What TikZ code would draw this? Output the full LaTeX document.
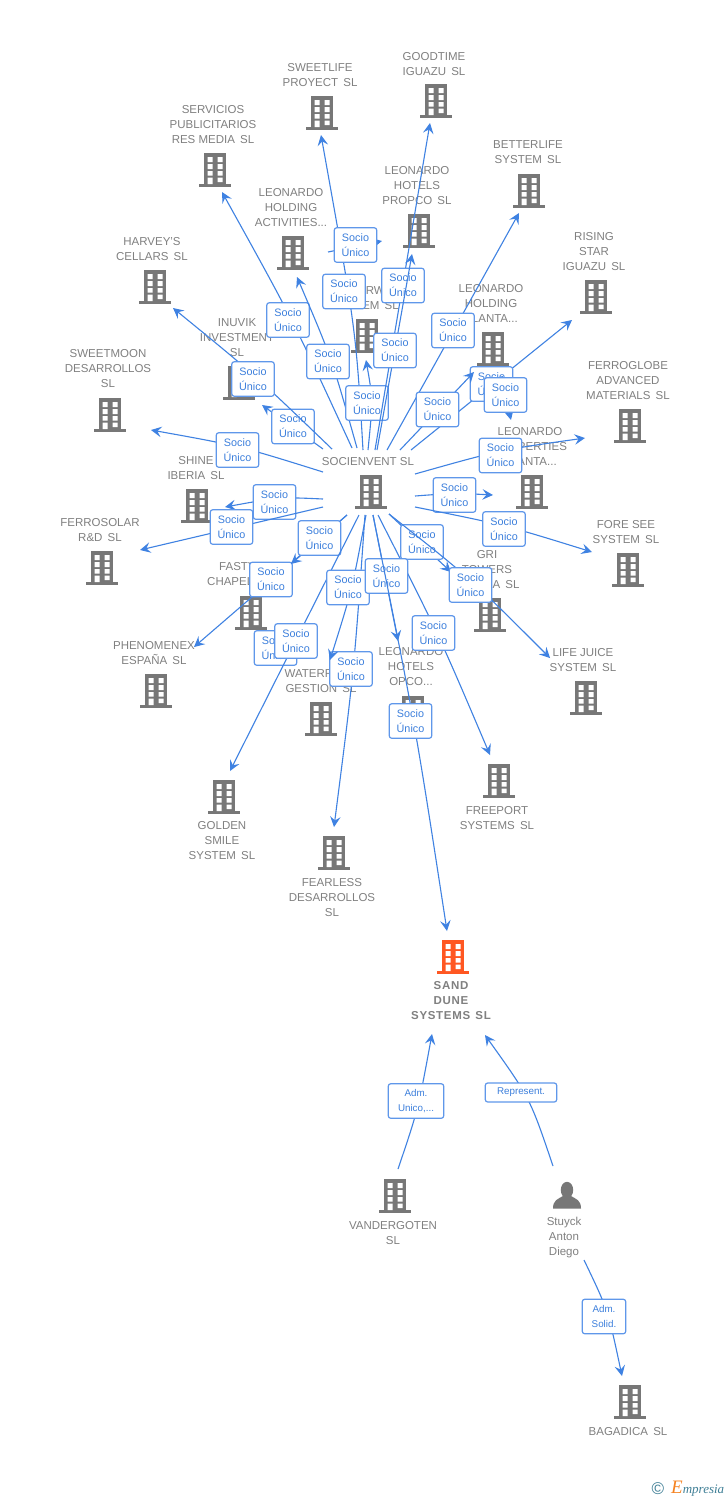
\documentclass[tikz,border=0pt]{standalone}
\usepackage{fontspec}
\setmainfont{Liberation Sans}
\newfontfamily\logofont{Liberation Serif}
\usetikzlibrary{arrows.meta}
\definecolor{ico}{HTML}{777777}
\definecolor{txt}{HTML}{808080}
\definecolor{lnc}{HTML}{3F82E2}
\definecolor{lbd}{HTML}{5F97EA}
\definecolor{ltx}{HTML}{3C7FDC}
\definecolor{org}{HTML}{FF5722}
\definecolor{teal2}{HTML}{3F7F96}
\definecolor{org2}{HTML}{F58220}
\tikzset{
  conn/.style={draw=lnc,line width=1.1pt,-{Stealth[length=10.5pt,width=10.5pt,inset=4pt]}},
  lbl/.style={draw=lbd,line width=1.2pt,fill=white,rounded corners=2.5pt,minimum width=42.5pt,minimum height=34.5pt,inner sep=0pt,align=center,text=ltx,font=\fontsize{10.8}{15}\selectfont},
  tag/.style={inner sep=0pt,align=center,text=txt,yshift=-0.8pt,font=\fontsize{11.5}{15}\selectfont},
  bnode/.style={inner sep=0pt,minimum width=32pt,minimum height=34pt,anchor=north},
}
\newcommand{\sg}{\hspace{.45em}}
\newcommand{\bld}[4][ico]{%
  \node[bnode] (#2) at (#3,#4) {};
  \begin{scope}[shift={(#3,#4)}]
    \fill[#1] (-11.2,0) rectangle (11.2,31);
    \fill[#1] (-16,31) rectangle (16,33.5);
    \fill[white] (-7.5,4) rectangle (-2.5,9) (2.5,4) rectangle (7.5,9)
      (-7.5,11.2) rectangle (-2.5,16) (2.5,11.2) rectangle (7.5,16)
      (-7.5,18) rectangle (-2.5,22.5) (2.5,18) rectangle (7.5,22.5)
      (-7.5,24.5) rectangle (-2.5,31) (2.5,24.5) rectangle (7.5,29);
  \end{scope}}
\newcommand{\tg}[4]{\node[tag] (#1) at (#2,#3) {#4};}
% name, start, end, label centre, label text
\newcommand{\lnk}[5]{%
  \coordinate (#1s) at (#2); \coordinate (#1e) at (#3);
  \draw[conn] (#1s) -- (#1e);
  \node[lbl] (#1l) at (#4) {#5};}
% name, start, control, end, label centre, label text
\newcommand{\lnc}[6]{%
  \coordinate (#1s) at (#2); \coordinate (#1c) at (#3); \coordinate (#1e) at (#4);
  \draw[conn] (#1s) .. controls (#1c) .. (#1e);
  \node[lbl] (#1l) at (#5) {#6};}
\newcommand{\su}{Socio\\Único}
\begin{document}
\begin{tikzpicture}[x=1pt,y=-1pt]
\useasboundingbox (0,0) rectangle (728,1500);
\fill[white] (0,0) rectangle (728,1500);
% buildings
\bld{soc}{371}{475}
\bld{sweetlife}{322}{96}
\bld{goodtime}{436}{84}
\bld{servicios}{215}{153}
\bld{betterlife}{529}{174}
\bld{propco}{419}{214}
\bld{holdact}{293}{236}
\bld{harvey}{155}{270}
\bld{rising}{596}{280}
\bld{rw}{367}{319}
\bld{ferroglobe}{630}{409}
\bld{holdplanta}{493}{332}
\bld{inuvik}{239}{366}
\bld{sweetmoon}{110}{398}
\bld{properties}{532}{475}
\bld{shine}{197}{489}
\bld{ferrosolar}{102}{551}
\bld{foresee}{628}{553}
\bld{gri}{490}{598}
\bld{fasty}{251}{596}
\bld{phenomenex}{156}{674}
\bld{lifejuice}{586}{681}
\bld{waterf}{321}{702}
\bld{opco}{413}{696}
\bld{golden}{224}{780}
\bld{freeport}{499}{764}
\bld{fearless}{334}{836}
\bld[org]{sand}{453}{940}
\bld{vander}{395}{1179}
\bld{bagadica}{630}{1385}
% person
\node[inner sep=0pt,minimum width=28pt,minimum height=27pt] (stuyck) at (567,1195) {};
\fill[ico] (567,1190) ellipse (6.2 and 8.2);
\fill[ico] (553,1208.5) .. controls (553,1200) and (558,1199) .. (563,1196) -- (571,1196) .. controls (576,1199) and (581,1200) .. (581,1208.5) -- cycle;
% texts
\tg{socT}{368}{461}{SOCIENVENT SL}
\tg{sweetlifeT}{320}{74}{SWEETLIFE\\PROYECT\sg SL}
\tg{goodtimeT}{434}{63.5}{GOODTIME\\IGUAZU\sg SL}
\tg{serviciosT}{213}{124}{SERVICIOS\\PUBLICITARIOS\\RES MEDIA\sg SL}
\tg{betterlifeT}{528}{151.5}{BETTERLIFE\\SYSTEM\sg SL}
\tg{propcoT}{417}{185}{LEONARDO\\HOTELS\\PROPCO\sg SL}
\tg{holdactT}{291}{207}{LEONARDO\\HOLDING\\ACTIVITIES...}
\tg{harveyT}{152}{248.5}{HARVEY'S\\CELLARS\sg SL}
\tg{risingT}{594}{251}{RISING\\STAR\\IGUAZU\sg SL}
\node[tag,anchor=east] (rwA) at (385,290) {RW};
\node[tag,anchor=east] (rwB) at (399,305) {EM\sg SL};
\tg{holdplantaT}{491}{303}{LEONARDO\\HOLDING\\PLANTA...}
\tg{inuvikT}{237}{337}{INUVIK\\INVESTMENT\\SL}
\tg{sweetmoonT}{108}{368}{SWEETMOON\\DESARROLLOS\\SL}
\tg{ferroglobeT}{628}{380}{FERROGLOBE\\ADVANCED\\MATERIALS\sg SL}
\tg{propertiesT}{530}{446}{LEONARDO\\PROPERTIES\\PLANTA...}
\tg{shineT}{196}{467.5}{SHINE\\IBERIA\sg SL}
\tg{ferrosolarT}{100}{529.5}{FERROSOLAR\\R\&D\sg SL}
\tg{foreseeT}{626}{531.5}{FORE SEE\\SYSTEM\sg SL}
\tg{griT}{487}{569}{GRI\\TOWERS\\ESPAÑA\sg SL}
\node[tag,anchor=west] (fastyA) at (219,566) {FASTY};
\node[tag,anchor=west] (fastyB) at (207,581) {CHAPEL};
\tg{phenomenexT}{154}{652.5}{PHENOMENEX\\ESPAÑA\sg SL}
\tg{lifejuiceT}{583}{659.5}{LIFE JUICE\\SYSTEM\sg SL}
\tg{waterfT}{321}{680.5}{WATERFIELD\\GESTION\sg SL}
\tg{opcoT}{411}{666}{LEONARDO\\HOTELS\\OPCO...}
\tg{goldenT}{222}{840}{GOLDEN\\SMILE\\SYSTEM\sg SL}
\tg{freeportT}{497}{817.5}{FREEPORT\\SYSTEMS\sg SL}
\tg{fearlessT}{332}{897}{FEARLESS\\DESARROLLOS\\SL}
\node[tag,font=\fontsize{11.5}{15}\selectfont\bfseries\addfontfeatures{LetterSpace=6}] (sandT) at (451,1000) {SAND\\DUNE\\SYSTEMS\sg SL};
\tg{vanderT}{393}{1232.5}{VANDERGOTEN\\SL}
\tg{stuyckT}{564}{1237}{Stuyck\\Anton\\Diego}
\tg{bagadicaT}{628}{1431}{BAGADICA\sg SL}
% connectors with their labels
\lnk{e09}{323,449}{262,405}{293,426.5}{\su}
\lnc{e08}{332,449}{255,375}{173,308}{253,379}{\su}
\lnc{e14}{323,472}{240,446}{151,430}{237.5,450}{\su}
\lnc{e04}{352,448}{293,320}{222,192}{288,320}{\su}
\lnc{e02}{363,450}{356,330}{321,135}{344,291.5}{\su}
\lnc{e05}{357,448}{332,359}{297,277}{328,361.5}{\su}
\lnk{e01}{328,252}{382,241}{355.5,245}{\su}
\lnc{e10}{368,450}{373,400}{366,360}{367,403}{\su}
\lnk{e03}{375,450}{430,123}{403,285.5}{\su}
\lnk{e06}{377,450}{412,254}{395,350.5}{\su}
\lnk{e07}{387,450}{519,213}{453,330.5}{\su}
\lnk{e12}{411,450}{572,320}{491.5,384}{\su}
\coordinate (e31s) at (494,384); \coordinate (e31e) at (503,376);
\draw[conn] (e31s) -- (e31e);
\lnk{e13}{505,395}{511,420}{505.5,395}{\su}
\lnk{e11}{400,450}{474,372}{437.5,409.5}{\su}
\lnc{e15}{415,474}{500,450}{585,438}{500.5,455.5}{\su}
\lnc{e17}{415,496}{455,493}{493,495}{454.5,495}{\su}
\lnc{e19}{415,507}{505,525}{592,552}{504,529}{\su}
\lnk{e21}{389,514}{451,572}{422,542}{\su}
\lnc{e25}{389,514}{470,578}{550,658}{470.5,585}{\su}
\lnc{e28}{378,515}{439,635}{490,755}{433.5,633}{\su}
\lnc{e16}{323,499}{280,497}{225,507}{274.5,502}{\su}
\lnk{e18}{323,507}{140,550}{231.5,527}{\su}
\lnk{e22}{347,515}{194,647}{271,579.5}{\su}
\lnk{e20}{347,515}{291,564}{319.5,538}{\su}
\node[lbl] (e26l) at (275.5,648) {\su};
\lnk{e27}{359,515}{230,771}{296,641}{\su}
\lnc{e29}{365,515}{354,671}{334,827}{351,669}{\su}
\lnc{e23}{366,515}{352,590}{330,660}{348,587.5}{\su}
\lnk{e24}{373,515}{398,641}{386.5,576}{\su}
\lnc{e30}{373,515}{415,723}{447,931}{410.5,721}{\su}
% lower group
\tikzset{small/.style={lbl,font=\fontsize{9.8}{15}\selectfont}}
\coordinate (a1s) at (398,1169); \coordinate (a1c) at (418,1110); \coordinate (a1e) at (432,1034);
\draw[conn] (a1s) .. controls (a1c) .. (a1e);
\node[small,minimum width=55.5pt] (a1l) at (416,1101) {Adm.\\Unico,...};
\coordinate (a2s) at (553,1166); \coordinate (a2c) at (530,1098); \coordinate (a2e) at (485,1035);
\draw[conn] (a2s) .. controls (a2c) .. (a2e);
\node[small,minimum width=71.5pt,minimum height=19pt] (a2l) at (521,1092.5) {Represent.};
\coordinate (a3s) at (584,1260); \coordinate (a3c) at (608,1310); \coordinate (a3e) at (622,1376);
\draw[conn] (a3s) .. controls (a3c) .. (a3e);
\node[small,minimum width=43.5pt] (a3l) at (604,1316.5) {Adm.\\Solid.};
% logo
\node[inner sep=0pt,text=teal2,font=\fontsize{17}{17}\selectfont] (copy) at (658,1489) {©};
\node[inner sep=0pt,anchor=west,text=teal2,font=\logofont\itshape\fontsize{13}{15}\selectfont] (logo) at (671,1489) {{\color{org2}\fontsize{19}{15}\selectfont E}mpresia};
\end{tikzpicture}
\end{document}
